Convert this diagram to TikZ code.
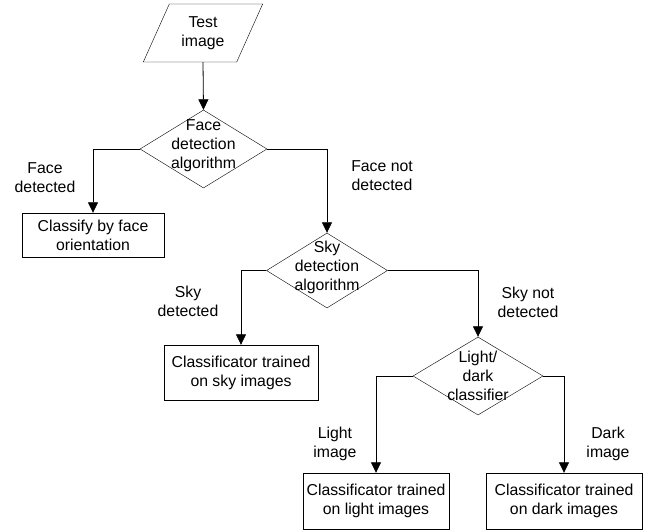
\documentclass[tikz,border=0pt]{standalone}
\usepackage{fontspec}
\setmainfont{Liberation Sans}
\usetikzlibrary{shapes.geometric, arrows.meta, positioning}

\begin{document}
\begin{tikzpicture}[
    x=1bp, y=-1bp,
    % Styles
    every node/.style={font=\fontsize{15.8bp}{19bp}\selectfont},
    io/.style={
        trapezium, draw, trapezium stretches=true,
        trapezium left angle=63.4, trapezium right angle=116.6,
        minimum width=120bp, minimum height=58bp,
        align=center, inner sep=0pt
    },
    decision/.style={
        diamond, draw, inner sep=0pt
    },
    process/.style={
        draw, rectangle, align=center, inner sep=0pt
    },
    lbl/.style={
        align=center, inner sep=0pt
    },
    flow/.style={
        -{Triangle[length=10.5bp, width=10bp]}, line width=0.8bp
    }
]
\useasboundingbox (0,0) rectangle (645,531);

% Input
\node[io] (test) at (203,33) {Test\\image};

% Face detection
\node[decision, minimum width=127bp, minimum height=78bp,
    label={[lbl, yshift=3bp]center:Face\\detection\\algorithm}] (facedec) at (203.5,149) {};
\draw[flow] (test.south) -- (facedec.north);

\node[process, minimum width=142bp, minimum height=44bp] (facebox) at (93,235)
    {Classify by face\\orientation};
\draw[flow] (facedec.west) -| (facebox.north);
\node[lbl] (facelbl) at (45,178) {Face\\detected};

% Sky detection
\node[decision, minimum width=121bp, minimum height=75bp,
    label={[lbl, yshift=3bp]center:Sky\\detection\\algorithm}] (skydec) at (327,270.5) {};
\draw[flow] (facedec.east) -| (skydec.north);
\node[lbl] (nofacelbl) at (382,176) {Face not\\detected};

\node[process, minimum width=154bp, minimum height=55bp] (skybox) at (241,372.5)
    {Classificator trained\\on sky images};
\draw[flow] (skydec.west) -| (skybox.north);
\node[lbl] (skylbl) at (188,301) {Sky\\detected};

% Light / dark
\node[decision, minimum width=130bp, minimum height=78bp,
    label={[lbl]center:Light/\\dark\\classifier}] (lightdec) at (478,376) {};
\draw[flow] (skydec.east) -| (lightdec.north);
\node[lbl] (noskylbl) at (528,302) {Sky not\\detected};

\node[process, minimum width=146bp, minimum height=56bp] (lightbox) at (376,501)
    {Classificator trained\\on light images};
\draw[flow] (lightdec.west) -| (lightbox.north);
\node[lbl] (lightlbl) at (335,444) {Light\\image};

\node[process, minimum width=156bp, minimum height=56bp] (darkbox) at (564,501)
    {Classificator trained\\on dark images};
\draw[flow] (lightdec.east) -| (darkbox.north);
\node[lbl] (darklbl) at (608,444) {Dark\\image};

\end{tikzpicture}
\end{document}
